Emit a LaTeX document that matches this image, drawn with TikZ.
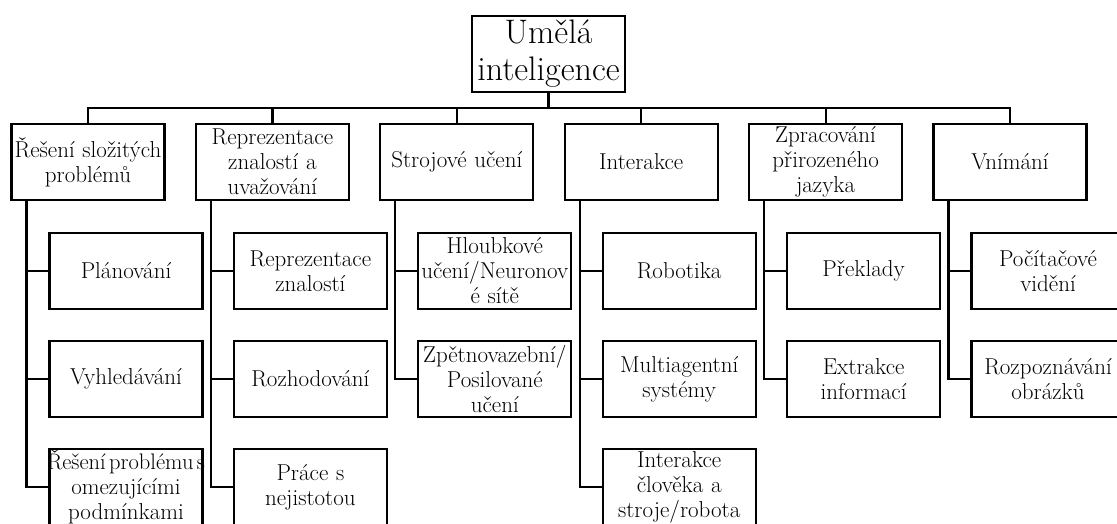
\documentclass[tikz,border=0pt]{standalone}
\usepackage{fontspec}
\begin{document}
\begin{tikzpicture}[x=1pt,y=-1pt,
  box/.style={draw=black,line width=2.2pt,fill=white,rectangle,inner sep=0pt,
    align=center,text width=153pt,minimum height=76pt,
    font=\fontsize{23}{25}\selectfont},
  rootbox/.style={box,minimum height=76pt,font=\fontsize{34}{37}\selectfont},
  conn/.style={draw=black,line width=2.2pt}]
\useasboundingbox (0,0) rectangle (1117,523);
% root
\node[rootbox] (root) at (548.5,54) {Umělá\\inteligence};
\coordinate (bus) at (0,108);
% level 1
\node[box] (c1) at (88,162) {Řešení složitých\\problémů};
\node[box] (c2) at (272.4,162) {Reprezentace\\znalostí a\\uvažování};
\node[box] (c3) at (456.8,162) {Strojové učení};
\node[box] (c4) at (641.2,162) {Interakce};
\node[box] (c5) at (825.6,162) {Zpracování\\přirozeného\\jazyka};
\node[box] (c6) at (1010,162) {Vnímání};
% level 2
\node[box] (c1a) at (126,271) {Plánování};
\node[box] (c1b) at (126,379) {Vyhledávání};
\node[box] (c1c) at (126,487) {\makebox[153pt][c]{\fontsize{22.5}{25}\selectfont\spaceskip=0.15em Řešení problému s}\\omezujícími\\podmínkami};
\node[box] (c2a) at (310.4,271) {Reprezentace\\znalostí};
\node[box] (c2b) at (310.4,379) {Rozhodování};
\node[box] (c2c) at (310.4,487) {Práce s\\nejistotou};
\node[box] (c3a) at (494.8,271) {Hloubkové\\učení/Neuronov\\é sítě};
\node[box] (c3b) at (494.8,379) {Zpětnovazební/\\Posilované\\učení};
\node[box] (c4a) at (679.2,271) {Robotika};
\node[box] (c4b) at (679.2,379) {Multiagentní\\systémy};
\node[box] (c4c) at (679.2,487) {Interakce\\člověka a\\stroje/robota};
\node[box] (c5a) at (863.6,271) {Překlady};
\node[box] (c5b) at (863.6,379) {Extrakce\\informací};
\node[box] (c6a) at (1048,271) {Počítačové\\vidění};
\node[box] (c6b) at (1048,379) {Rozpoznávání\\obrázků};
% connectors root -> level 1
\foreach \c in {c1,c2,c3,c4,c5,c6}
  \draw[conn] (root.south) |- (\c.north |- bus) -- (\c.north);
% connectors level 1 -> level 2
\foreach \p/\c in {c1/c1a,c1/c1b,c1/c1c,c2/c2a,c2/c2b,c2/c2c,c3/c3a,c3/c3b,
                   c4/c4a,c4/c4b,c4/c4c,c5/c5a,c5/c5b,c6/c6a,c6/c6b}
  \draw[conn] ([xshift=16pt]\p.south west) |- (\c.west);
\end{tikzpicture}
\end{document}
